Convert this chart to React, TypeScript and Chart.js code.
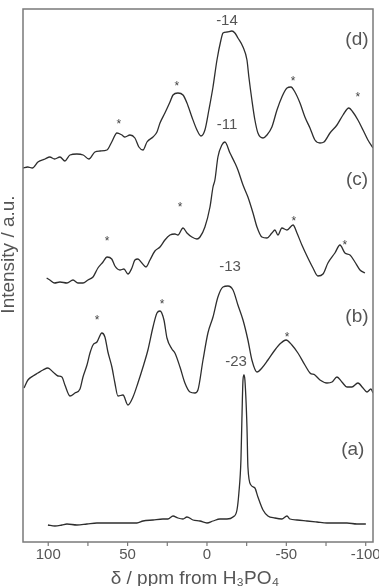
import React, { useEffect, useRef } from 'react';
import { Chart, registerables } from 'chart.js';

Chart.register(...registerables);

// chemical shift axis (ppm from H3PO4), reversed
const xMin = -104.6;
const xMax = 115.9;
const majorTicks = [100, 50, 0, -50, -100];
const minorTicks = [75, 25, -25, -75];

// stacked intensity (a.u.), offsets included
const yMax = 533;

// trace (d)
const ppmD = [115.9, 113, 110, 106.5, 102, 99, 96, 92.6, 89.5, 86.3, 82, 78, 74.4, 70.6, 67.4, 63, 60, 56.7, 53.6, 51.7, 48.5, 45.4, 42.9, 40.3, 37.8, 34, 31.5, 29.6, 26.5, 23.3, 21.4, 18.3, 15.1, 12.6, 9.5, 6.3, 3.8, 1.3, -1.2, -3.8, -6.3, -8.8, -10.1, -12.6, -15.7, -17.6, -19.5, -22.7, -25.2, -26.4, -28.3, -30.2, -32.1, -35.3, -37.8, -40.9, -44.1, -47.2, -50.4, -52.9, -55.4, -58.6, -61.7, -64.9, -68, -71.2, -73.7, -77.5, -81.9, -85.7, -89.4, -91.9, -95.1, -98.3, -101.4, -104.6];
const intD = [374, 375, 374, 380, 383, 385, 383, 385, 381, 387, 388, 387, 383, 390, 391, 392, 400, 409, 407, 405, 407, 404, 395, 392, 400, 405, 410, 419, 429, 440, 447, 449, 447, 439, 425, 412, 406, 412, 432, 455, 482, 502, 509, 510, 511, 509, 504, 495, 482, 465, 442, 422, 409, 404, 407, 415, 432, 445, 454, 455, 450, 439, 425, 414, 402, 399, 400, 409, 417, 427, 434, 430, 422, 412, 402, 394];

// trace (c)
const ppmC = [101, 99, 96, 92.6, 88.2, 84.4, 81.3, 78.1, 75, 71.8, 68.7, 65.5, 63, 60, 58, 54.8, 52.3, 49.8, 47.3, 45.4, 43.5, 41, 38.4, 35.9, 32.8, 29.6, 26.5, 23.3, 20.2, 18.3, 15.1, 12.6, 9.5, 6.3, 4.4, 1.3, -1.9, -3.8, -5, -6.9, -9.4, -11.3, -14.5, -17.6, -19.5, -22.7, -25.8, -29, -31.5, -34.6, -37.8, -40.9, -42.8, -44.7, -47.2, -50.4, -54.2, -56.7, -59.8, -63.6, -66.8, -69.9, -73.1, -76.2, -80.6, -83.8, -86.9, -90.1, -93.2, -96.4, -99.5];
const intC = [264, 262, 259, 260, 259, 262, 259, 259, 262, 265, 274, 280, 285, 283, 276, 272, 273, 268, 274, 282, 283, 279, 275, 282, 291, 295, 302, 307, 308, 307, 314, 309, 305, 303, 305, 315, 335, 355, 362, 385, 397, 400, 389, 379, 372, 357, 345, 329, 315, 305, 304, 309, 312, 307, 314, 312, 317, 309, 297, 284, 274, 266, 268, 279, 289, 297, 289, 287, 280, 272, 269];

// trace (b)
const ppmB = [115.3, 112.8, 109.6, 106.5, 103.3, 100.2, 97, 93.9, 91.4, 89.5, 86.3, 83.2, 80, 78.1, 75.6, 73.7, 71.8, 69.3, 66.2, 64.3, 62.4, 59.9, 58, 56.1, 52.9, 49.8, 46.6, 43.5, 40.3, 37.2, 34, 31.5, 29.6, 27.1, 25.2, 22.1, 20.2, 17, 13.9, 10.7, 7.6, 5.7, 2.5, -0.6, -3.8, -6.9, -10.1, -13.2, -16.4, -19.5, -22.7, -25.8, -28.3, -31.5, -34.6, -38.4, -42.8, -46.6, -49.8, -53.5, -57.3, -61.7, -64.9, -68, -71.2, -75.6, -78.8, -81.9, -85, -88.2, -91.3, -95.1, -98.3, -100.8, -103.3, -104.6];
const intB = [154, 162, 166, 169, 172, 174, 170, 166, 165, 157, 146, 149, 153, 165, 177, 189, 197, 200, 209, 205, 190, 175, 159, 146, 147, 137, 145, 159, 175, 192, 215, 229, 231, 222, 204, 193, 189, 175, 159, 150, 149, 152, 182, 209, 225, 245, 255, 256, 252, 237, 222, 202, 182, 170, 174, 182, 192, 199, 202, 197, 189, 177, 169, 167, 162, 159, 160, 165, 160, 155, 155, 159, 154, 150, 153, 149];

// trace (a)
const ppmA = [100.2, 95.8, 91.4, 88.2, 81.9, 75.6, 69.3, 63, 56.7, 50.4, 44.1, 40.3, 34, 27.7, 24.6, 21.4, 18.3, 15.1, 12.6, 8.8, 4.4, 0, -3.8, -8.2, -12.6, -16.4, -18.9, -20.1, -21.4, -22, -22.7, -23.3, -23.9, -25.2, -25.8, -27.7, -30.2, -32.1, -35.3, -38.4, -42.8, -47.2, -50.4, -52.3, -56.7, -63, -69.3, -75.6, -81.9, -88.2, -94.5, -100.1];
const intA = [17, 16, 17, 18, 17, 18, 19, 19, 19, 19, 19, 21, 22, 23, 23, 26, 24, 23, 25, 22, 21, 19, 21, 23, 23, 25, 32, 49, 82, 122, 162, 167, 162, 115, 75, 57, 54, 45, 32, 26, 24, 23, 26, 23, 22, 21, 20, 19, 19, 19, 18, 18];

// peak position labels
const peakText = ['-14', '-11', '-13', '-23'];
const peakPpm = [-12.6, -12.6, -14.5, -18.3];
const peakInt = [521, 417, 275, 180];

// trace names
const traceNames = ['(d)', '(c)', '(b)', '(a)'];
const traceNamePpm = [-94.5, -94.5, -94.5, -91.9];
const traceNameInt = [502, 362, 225, 92];

// spinning sidebands (*)
const starPpm = [55.5, 19, -54.2, -95.1, 63, 17, -54.8, -86.9, 69.3, 28.3, -50.4];
const starInt = [421, 459, 464, 448, 304, 338, 324, 300, 225, 241, 208];

const xTitle = 'δ / ppm from H₃PO₄';
const yTitle = 'Intensity / a.u.';

const FONT = '"Liberation Sans", Arial, Helvetica, sans-serif';

export default function App() {
  const ref = useRef<HTMLCanvasElement>(null);

  useEffect(() => {
    if (!ref.current) return;
    const zip = (xs: number[], ys: number[]) => xs.map((x, i) => ({ x, y: ys[i] }));
    const series = [
      zip(ppmD, intD),
      zip(ppmC, intC),
      zip(ppmB, intB),
      zip(ppmA, intA),
    ];

    const overlay = {
      id: 'overlay',
      afterDraw(chart: any) {
        const { ctx, chartArea: a } = chart;
        const xs = chart.scales.x;
        const ys = chart.scales.y;
        ctx.save();
        // frame
        ctx.strokeStyle = '#7a7a7a';
        ctx.lineWidth = 1.5;
        ctx.strokeRect(a.left, a.top, a.right - a.left, a.bottom - a.top);
        // ticks
        ctx.lineWidth = 1.2;
        [...majorTicks, ...minorTicks].forEach((v) => {
          const px = xs.getPixelForValue(v);
          ctx.beginPath();
          ctx.moveTo(px, a.bottom);
          ctx.lineTo(px, a.bottom + 4);
          ctx.stroke();
        });
        // tick labels
        ctx.fillStyle = '#555';
        ctx.font = `15px ${FONT}`;
        ctx.textAlign = 'center';
        ctx.textBaseline = 'alphabetic';
        majorTicks.forEach((v) => {
          ctx.fillText(String(v), xs.getPixelForValue(v), a.bottom + 17);
        });
        // x title
        ctx.font = `19px ${FONT}`;
        ctx.fillText(xTitle, (a.left + a.right) / 2 - 3, a.bottom + 42);
        // y title
        ctx.save();
        ctx.translate(9, (a.top + a.bottom) / 2 - 21);
        ctx.rotate(-Math.PI / 2);
        ctx.textBaseline = 'middle';
        ctx.fillText(yTitle, 0, 0);
        ctx.restore();
        // peak labels
        ctx.font = `15px ${FONT}`;
        ctx.textBaseline = 'middle';
        peakText.forEach((t, i) => {
          ctx.fillText(t, xs.getPixelForValue(peakPpm[i]), ys.getPixelForValue(peakInt[i]));
        });
        // trace names
        ctx.font = `19px ${FONT}`;
        traceNames.forEach((t, i) => {
          ctx.fillText(t, xs.getPixelForValue(traceNamePpm[i]), ys.getPixelForValue(traceNameInt[i]));
        });
        // stars
        ctx.fillStyle = '#444';
        ctx.font = `12px ${FONT}`;
        ctx.textBaseline = 'alphabetic';
        starPpm.forEach((p, i) => {
          ctx.fillText('*', xs.getPixelForValue(p), ys.getPixelForValue(starInt[i]) + 7);
        });
        ctx.restore();
      },
    };

    const chart = new Chart(ref.current, {
      type: 'line',
      data: {
        datasets: series.map((d) => ({
          data: d,
          borderColor: '#2e2e2e',
          borderWidth: 1.3,
          pointRadius: 0,
          fill: false,
          tension: 0.4,
          cubicInterpolationMode: 'monotone' as const,
        })),
      },
      options: {
        responsive: false,
        animation: false,
        layout: { padding: { left: 23, right: 6, top: 9, bottom: 44 } },
        plugins: { legend: { display: false }, tooltip: { enabled: false } },
        scales: {
          x: { type: 'linear', reverse: true, min: xMin, max: xMax, display: false },
          y: { type: 'linear', min: 0, max: yMax, display: false },
        },
      },
      plugins: [overlay],
    });
    return () => chart.destroy();
  }, []);

  return (
    <div style={{ position: 'absolute', left: 0, top: 0, width: 379, height: 586, background: '#fff' }}>
      <canvas ref={ref} width={379} height={586} style={{ display: 'block' }} />
    </div>
  );
}
